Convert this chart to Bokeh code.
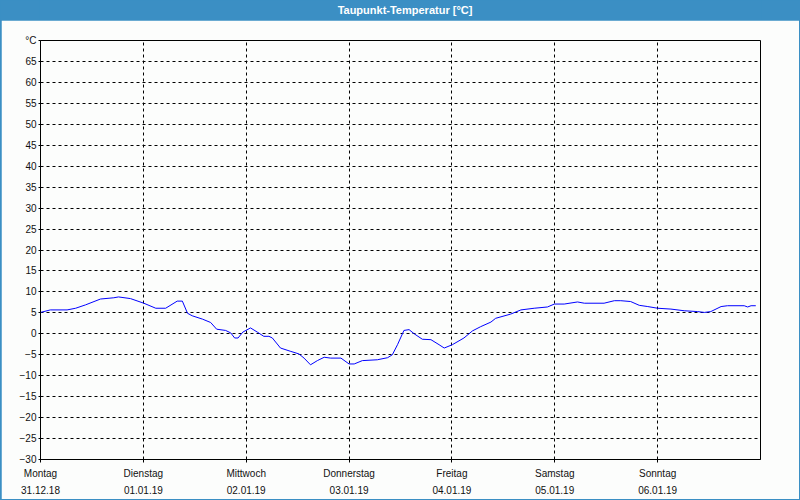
from bokeh.plotting import figure
from bokeh.layouts import column
from bokeh.models import Range1d, FixedTicker
from bokeh.core.properties import value
from bokeh.embed import file_html
from bokeh.resources import INLINE

# ---- data ----
title_text = "Taupunkt-Temperatur [°C]"
day_names = ["Montag", "Dienstag", "Mittwoch", "Donnerstag", "Freitag", "Samstag", "Sonntag"]
day_dates = ["31.12.18", "01.01.19", "02.01.19", "03.01.19", "04.01.19", "05.01.19", "06.01.19"]
day_hours = [0, 24, 48, 72, 96, 120, 144]
y_ticks = [-30, -25, -20, -15, -10, -5, 0, 5, 10, 15, 20, 25, 30, 35, 40, 45, 50, 55, 60, 65, 70]
y_unit_label = "°C"

hours = [0.0, 2.3, 6.2, 8.2, 10.5, 14.0, 17.1, 18.2, 21.0, 24.1, 26.9, 29.2, 31.9, 33.1,
         34.3, 35.4, 37.8, 39.7, 41.1, 43.2, 44.4, 45.3, 46.1, 47.2, 49.0, 50.6, 52.1,
         53.3, 54.1, 56.0, 58.4, 60.3, 61.5, 63.0, 64.6, 66.2, 67.7, 70.1, 72.0, 73.2,
         75.1, 78.6, 81.0, 82.1, 83.3, 84.8, 86.0, 87.2, 89.1, 91.1, 93.0, 94.2, 96.1,
         98.8, 100.8, 102.7, 105.1, 106.2, 109.7, 112.1, 115.2, 118.3, 119.9, 122.2,
         125.3, 126.9, 131.5, 133.9, 135.4, 137.7, 139.7, 141.7, 144.0, 147.1, 150.2,
         153.3, 154.9, 156.4, 158.8, 160.3, 164.2, 165.0, 165.8, 166.9]
dewpoint = [5.1, 5.7, 5.7, 6.1, 6.9, 8.3, 8.6, 8.8, 8.4, 7.3, 6.1, 6.1, 7.8, 7.8,
            4.9, 4.3, 3.5, 2.7, 1.1, 0.8, 0.2, -1.0, -1.0, 0.4, 1.4, 0.4, -0.6,
            -0.6, -1.0, -3.4, -4.2, -4.8, -5.8, -7.4, -6.4, -5.6, -5.8, -5.8, -7.2, -7.2,
            -6.4, -6.2, -5.7, -5.0, -2.6, 0.8, 1.0, 0.0, -1.3, -1.4, -2.6, -3.4, -2.6,
            -1.0, 0.7, 1.7, 2.8, 3.7, 4.7, 5.7, 6.1, 6.4, 7.1, 7.1,
            7.6, 7.3, 7.3, 7.9, 7.9, 7.7, 6.8, 6.5, 6.1, 5.9, 5.5,
            5.3, 5.1, 5.3, 6.5, 6.7, 6.7, 6.4, 6.7, 6.7]

# ---- style ----
BLUE = "#3b8fc4"
BG = "#fcfdfc"
FONT = "Liberation Sans"

# title bar
tf = figure(width=800, height=20, output_backend="svg", toolbar_location=None,
            x_range=Range1d(0, 800), y_range=Range1d(0, 20),
            min_border=0, min_border_left=0, min_border_right=0,
            min_border_top=0, min_border_bottom=0)
tf.axis.visible = False
tf.grid.visible = False
tf.outline_line_color = None
tf.background_fill_color = BLUE
tf.border_fill_color = BLUE
tf.text(x=[405], y=[10.5], text=[title_text], text_align="center", text_baseline="middle",
        text_color="white", text_font=value(FONT), text_font_style="bold",
        text_font_size="11px")

# main chart
p = figure(width=798, height=479, output_backend="svg", toolbar_location=None,
           x_range=Range1d(0, 168), y_range=Range1d(-30, 70),
           min_border_left=39, min_border_right=39, min_border_top=20, min_border_bottom=40,
           margin=(0, 1, 1, 1))
p.background_fill_color = BG
p.border_fill_color = BG
p.outline_line_color = "black"
p.outline_line_width = 1

p.line(hours, dewpoint, line_color="#0000ff", line_width=1)

# axes
p.xaxis.ticker = FixedTicker(ticks=day_hours)
p.xaxis.major_label_overrides = {h: f"{n}\n{d}" for h, n, d in zip(day_hours, day_names, day_dates)}
p.yaxis.ticker = FixedTicker(ticks=y_ticks)
p.yaxis.major_label_overrides = {70: y_unit_label}
for ax in (p.xaxis[0], p.yaxis[0]):
    ax.axis_line_color = "black"
    ax.major_tick_line_color = "black"
    ax.minor_tick_line_color = None
    ax.major_tick_in = 0
    ax.major_label_text_font = FONT
    ax.major_label_text_font_size = "10px"
    ax.major_label_text_color = "#111111"
p.xaxis.major_tick_out = 3
p.xaxis.major_tick_line_dash = "3 3"
p.xaxis.major_label_standoff = 5
p.xaxis.major_label_text_line_height = 1.6
p.yaxis.major_tick_out = 2
p.yaxis.major_label_standoff = 2

# grid
for g in (p.xgrid[0], p.ygrid[0]):
    g.grid_line_color = "black"
    g.grid_line_dash = "3 3"
    g.grid_line_width = 1
p.xgrid.ticker = FixedTicker(ticks=day_hours[1:])
p.ygrid.ticker = FixedTicker(ticks=y_ticks[1:-1])

layout = column(tf, p, spacing=0, styles={"background-color": BLUE})

open("out.html", "w").write(file_html(layout, INLINE))
